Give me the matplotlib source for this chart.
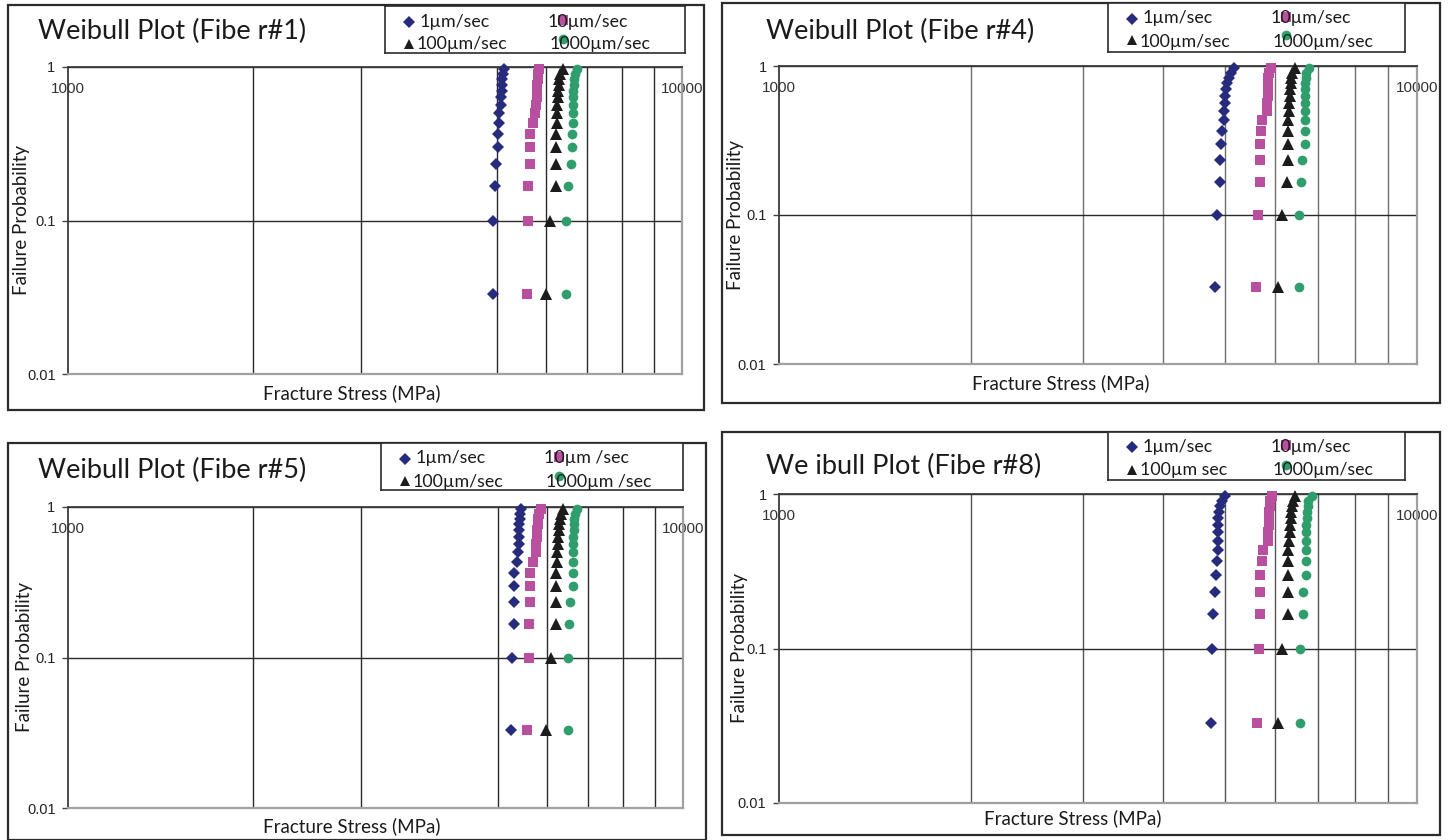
import matplotlib
matplotlib.use('Agg')
import matplotlib.pyplot as plt
from matplotlib.patches import Rectangle
from matplotlib.ticker import FixedLocator, NullFormatter, NullLocator

# ---------------- data ----------------
prob = [0.033, 0.1, 0.167, 0.233, 0.3, 0.367, 0.433, 0.5, 0.567, 0.633,
        0.7, 0.767, 0.833, 0.9, 0.967]

series_labels = ["1µm/sec", "10µm/sec", "100µm/sec", "1000µm/sec"]

# Fiber #1
fib1_1um = [4930, 4930, 4960, 4980, 5020, 5020, 5040, 5040, 5070, 5070, 5085, 5090, 5100, 5110, 5130]
fib1_10um = [5590, 5620, 5620, 5655, 5655, 5655, 5713, 5763, 5780, 5800, 5800, 5810, 5820, 5834, 5856]
fib1_100um = [6004, 6095, 6234, 6234, 6234, 6234, 6250, 6264, 6264, 6288, 6288, 6305, 6315, 6328, 6393]
fib1_1000um = [6474, 6474, 6530, 6589, 6613, 6613, 6653, 6653, 6653, 6653, 6653, 6670, 6680, 6695, 6753]

# Fiber #4
fib4_1um = [4818, 4853, 4906, 4906, 4936, 4955, 4978, 4985, 4996, 5008, 5026, 5045, 5076, 5106, 5169]
fib4_10um = [5603, 5638, 5665, 5665, 5665, 5692, 5721, 5811, 5817, 5832, 5838, 5846, 5846, 5853, 5902]
fib4_100um = [6045, 6134, 6261, 6268, 6268, 6268, 6284, 6298, 6307, 6321, 6330, 6337, 6344, 6360, 6436]
fib4_1000um = [6531, 6531, 6571, 6612, 6674, 6674, 6674, 6674, 6674, 6680, 6680, 6685, 6690, 6698, 6772]

# Fiber #5
fib5_1um = [5252, 5278, 5312, 5312, 5312, 5312, 5366, 5398, 5404, 5418, 5418, 5418, 5433, 5442, 5452]
fib5_10um = [5582, 5618, 5618, 5639, 5639, 5639, 5696, 5761, 5767, 5782, 5789, 5802, 5817, 5839, 5876]
fib5_100um = [5987, 6094, 6215, 6215, 6215, 6215, 6230, 6246, 6255, 6268, 6285, 6292, 6310, 6325, 6374]
fib5_1000um = [6495, 6495, 6534, 6552, 6633, 6633, 6633, 6633, 6633, 6633, 6640, 6650, 6657, 6675, 6733]

# Fiber #8
fib8_1um = [4749, 4778, 4795, 4818, 4835, 4865, 4873, 4873, 4873, 4883, 4883, 4891, 4906, 4942, 5003]
fib8_10um = [5623, 5644, 5679, 5679, 5679, 5706, 5741, 5832, 5843, 5853, 5853, 5862, 5880, 5886, 5923]
fib8_100um = [6061, 6141, 6285, 6285, 6285, 6285, 6285, 6300, 6321, 6328, 6344, 6350, 6366, 6383, 6446]
fib8_1000um = [6554, 6554, 6619, 6635, 6698, 6698, 6698, 6698, 6698, 6698, 6714, 6720, 6740, 6740, 6845]

titles = ["Weibull Plot (Fibe r#1)", "Weibull Plot (Fibe r#4)",
          "Weibull Plot (Fibe r#5)", "We ibull Plot (Fibe r#8)"]
legend_texts = [
    ["1µm/sec", "10µm/sec", "100µm/sec", "1000µm/sec"],
    ["1µm/sec", "10µm/sec", "100µm/sec", "1000µm/sec"],
    ["1µm/sec", "10µm /sec", "100µm/sec", "1000µm /sec"],
    ["1µm/sec", "10µm/sec", "100µm sec", "1000µm/sec"],
]
x_ticks = [1000, 10000]
x_tick_labels = ["1000", "10000"]
y_ticks = [0.01, 0.1, 1]
y_tick_labels = ["0.01", "0.1", "1"]
grid_full = [2000, 3000, 4000, 5000, 6000, 7000, 8000, 9000]
grid_no4k = [2000, 3000, 5000, 6000, 7000, 8000, 9000]

# ---------------- styling ----------------
W, H = 1453, 840
FONT = ['Lato', 'DejaVu Sans']
plt.rcParams['font.family'] = FONT

colors = ["#262b7c", "#b84f9f", "#1c1c1c", "#2f9e6c"]
markers = ["D", "s", "^", "o"]
msizes = [6.3, 7.0, 8.0, 7.0]

fig = plt.figure(figsize=(W / 100, H / 100), dpi=100)
fig.patch.set_facecolor('white')


def fbox(x0, y0, x1, y1):
    return [x0 / W, 1 - y1 / H, (x1 - x0) / W, (y1 - y0) / H]


def ftext(x, y, s, **kw):
    fig.text(x / W, 1 - y / H, s, **kw)


panels = [
    dict(data=[fib1_1um, fib1_10um, fib1_100um, fib1_1000um],
         outer=(8, 5, 704, 410), axes=(68, 67, 682, 374), grid=grid_no4k, gcol="#2a2a2a",
         title=(38, 31), ylab=(22, 220), xlab=(352, 393),
         leg=(385, 6, 685, 53)),
    dict(data=[fib4_1um, fib4_10um, fib4_100um, fib4_1000um],
         outer=(722, 3, 1440, 403), axes=(779, 66, 1417, 364), grid=grid_full, gcol="#6e6e6e",
         title=(766, 31), ylab=(736, 215), xlab=(1061, 383),
         leg=(1108, 3, 1405, 52)),
    dict(data=[fib5_1um, fib5_10um, fib5_100um, fib5_1000um],
         outer=(8, 443, 706, 840), axes=(68, 507, 683, 808), grid=grid_no4k, gcol="#2a2a2a",
         title=(38, 470), ylab=(25, 657), xlab=(352, 826),
         leg=(381, 443, 683, 490)),
    dict(data=[fib8_1um, fib8_10um, fib8_100um, fib8_1000um],
         outer=(722, 432, 1440, 835), axes=(779, 494, 1417, 803), grid=grid_full, gcol="#555555",
         title=(766, 466), ylab=(740, 648), xlab=(1073, 818),
         leg=(1108, 432, 1405, 480)),
]

for i, p in enumerate(panels):
    # outer chart frame
    x0, y0, x1, y1 = p['outer']
    fig.add_artist(Rectangle((x0 / W, 1 - y1 / H), (x1 - x0) / W, (y1 - y0) / H,
                             transform=fig.transFigure, fill=False,
                             edgecolor="#2b2b2b", linewidth=1.6, zorder=0))

    ax = fig.add_axes(fbox(*p['axes']))
    ax.set_xscale('log')
    ax.set_yscale('log')
    ax.set_xlim(1000, 10000)
    ax.set_ylim(0.01, 1)

    for vals, c, m, ms in zip(p['data'], colors, markers, msizes):
        ax.plot(vals, prob, linestyle='none', marker=m, color=c, markersize=ms,
                markeredgewidth=0, zorder=3, clip_on=False)

    # gridlines
    ax.xaxis.set_minor_locator(FixedLocator(p['grid']))
    ax.xaxis.set_minor_formatter(NullFormatter())
    ax.yaxis.set_minor_locator(NullLocator())
    ax.grid(True, which='minor', axis='x', color=p['gcol'], linewidth=1.0, zorder=1)
    ax.set_yticks(y_ticks)
    ax.set_yticklabels(y_tick_labels)
    ax.grid(True, which='major', axis='y', color="#2a2a2a", linewidth=1.0, zorder=1)

    ax.set_xticks(x_ticks)
    ax.set_xticklabels(x_tick_labels)
    ax.xaxis.set_ticks_position('top')
    ax.tick_params(axis='x', which='both', length=0, pad=-21, labelsize=11,
                   labelfontfamily='Liberation Sans', labelcolor="#333333")
    ax.tick_params(axis='y', which='major', length=4, width=1, pad=5, labelsize=10.5,
                   labelfontfamily='Liberation Sans', color="#444444", labelcolor="#222222")

    for side in ['top', 'left']:
        ax.spines[side].set_color("#3a3a3a")
        ax.spines[side].set_linewidth(1.3)
    for side in ['right', 'bottom']:
        ax.spines[side].set_color("#a0a0a0")
        ax.spines[side].set_linewidth(1.6)

    # texts
    ftext(p['title'][0], p['title'][1], titles[i], fontsize=19.5, ha='left', va='center',
          color="#1a1a1a")
    ftext(p['ylab'][0], p['ylab'][1], "Failure Probability", fontsize=13.5, rotation=90,
          ha='center', va='center', color="#1a1a1a")
    ftext(p['xlab'][0], p['xlab'][1], "Fracture Stress (MPa)", fontsize=13.5,
          ha='center', va='center', color="#1a1a1a")

    # legend box
    lx0, ly0, lx1, ly1 = p['leg']
    lax = fig.add_axes(fbox(lx0, ly0, lx1, ly1))
    lax.set_xlim(0, lx1 - lx0)
    lax.set_ylim(ly1 - ly0, 0)
    lax.set_xticks([])
    lax.set_yticks([])
    lax.patch.set_facecolor('white')
    for s in lax.spines.values():
        s.set_color("#2b2b2b")
        s.set_linewidth(1.2)
    rows = [15.5, 38.5]
    col0_marker, col0_text = 24, 35
    col1_text, col1_marker = 163, 178
    lt = legend_texts[i]
    fs = 12.8
    # left column
    lax.plot([col0_marker], [rows[0]], marker=markers[0], color=colors[0], markersize=6,
             markeredgewidth=0, linestyle='none')
    lax.text(col0_text, rows[0], lt[0], fontsize=fs, va='center', ha='left', color="#1a1a1a")
    lax.plot([col0_marker], [rows[1] - 1], marker=markers[2], color=colors[2], markersize=7.5,
             markeredgewidth=0, linestyle='none')
    lax.text(col0_text - 3, rows[1], lt[2], fontsize=fs, va='center', ha='left', color="#1a1a1a")
    # right column (markers overlap the text as in the original)
    lax.text(col1_text, rows[0], lt[1], fontsize=fs, va='center', ha='left', color="#1a1a1a")
    lax.plot([col1_marker], [rows[0] - 2], marker=markers[1], color=colors[1], markersize=7,
             markeredgewidth=0, linestyle='none')
    lax.text(col1_text + 2, rows[1], lt[3], fontsize=fs, va='center', ha='left', color="#1a1a1a")
    lax.plot([col1_marker], [rows[1] - 6], marker=markers[3], color=colors[3], markersize=7,
             markeredgewidth=0, linestyle='none')

fig.savefig("out.png", dpi=100, facecolor='white')
